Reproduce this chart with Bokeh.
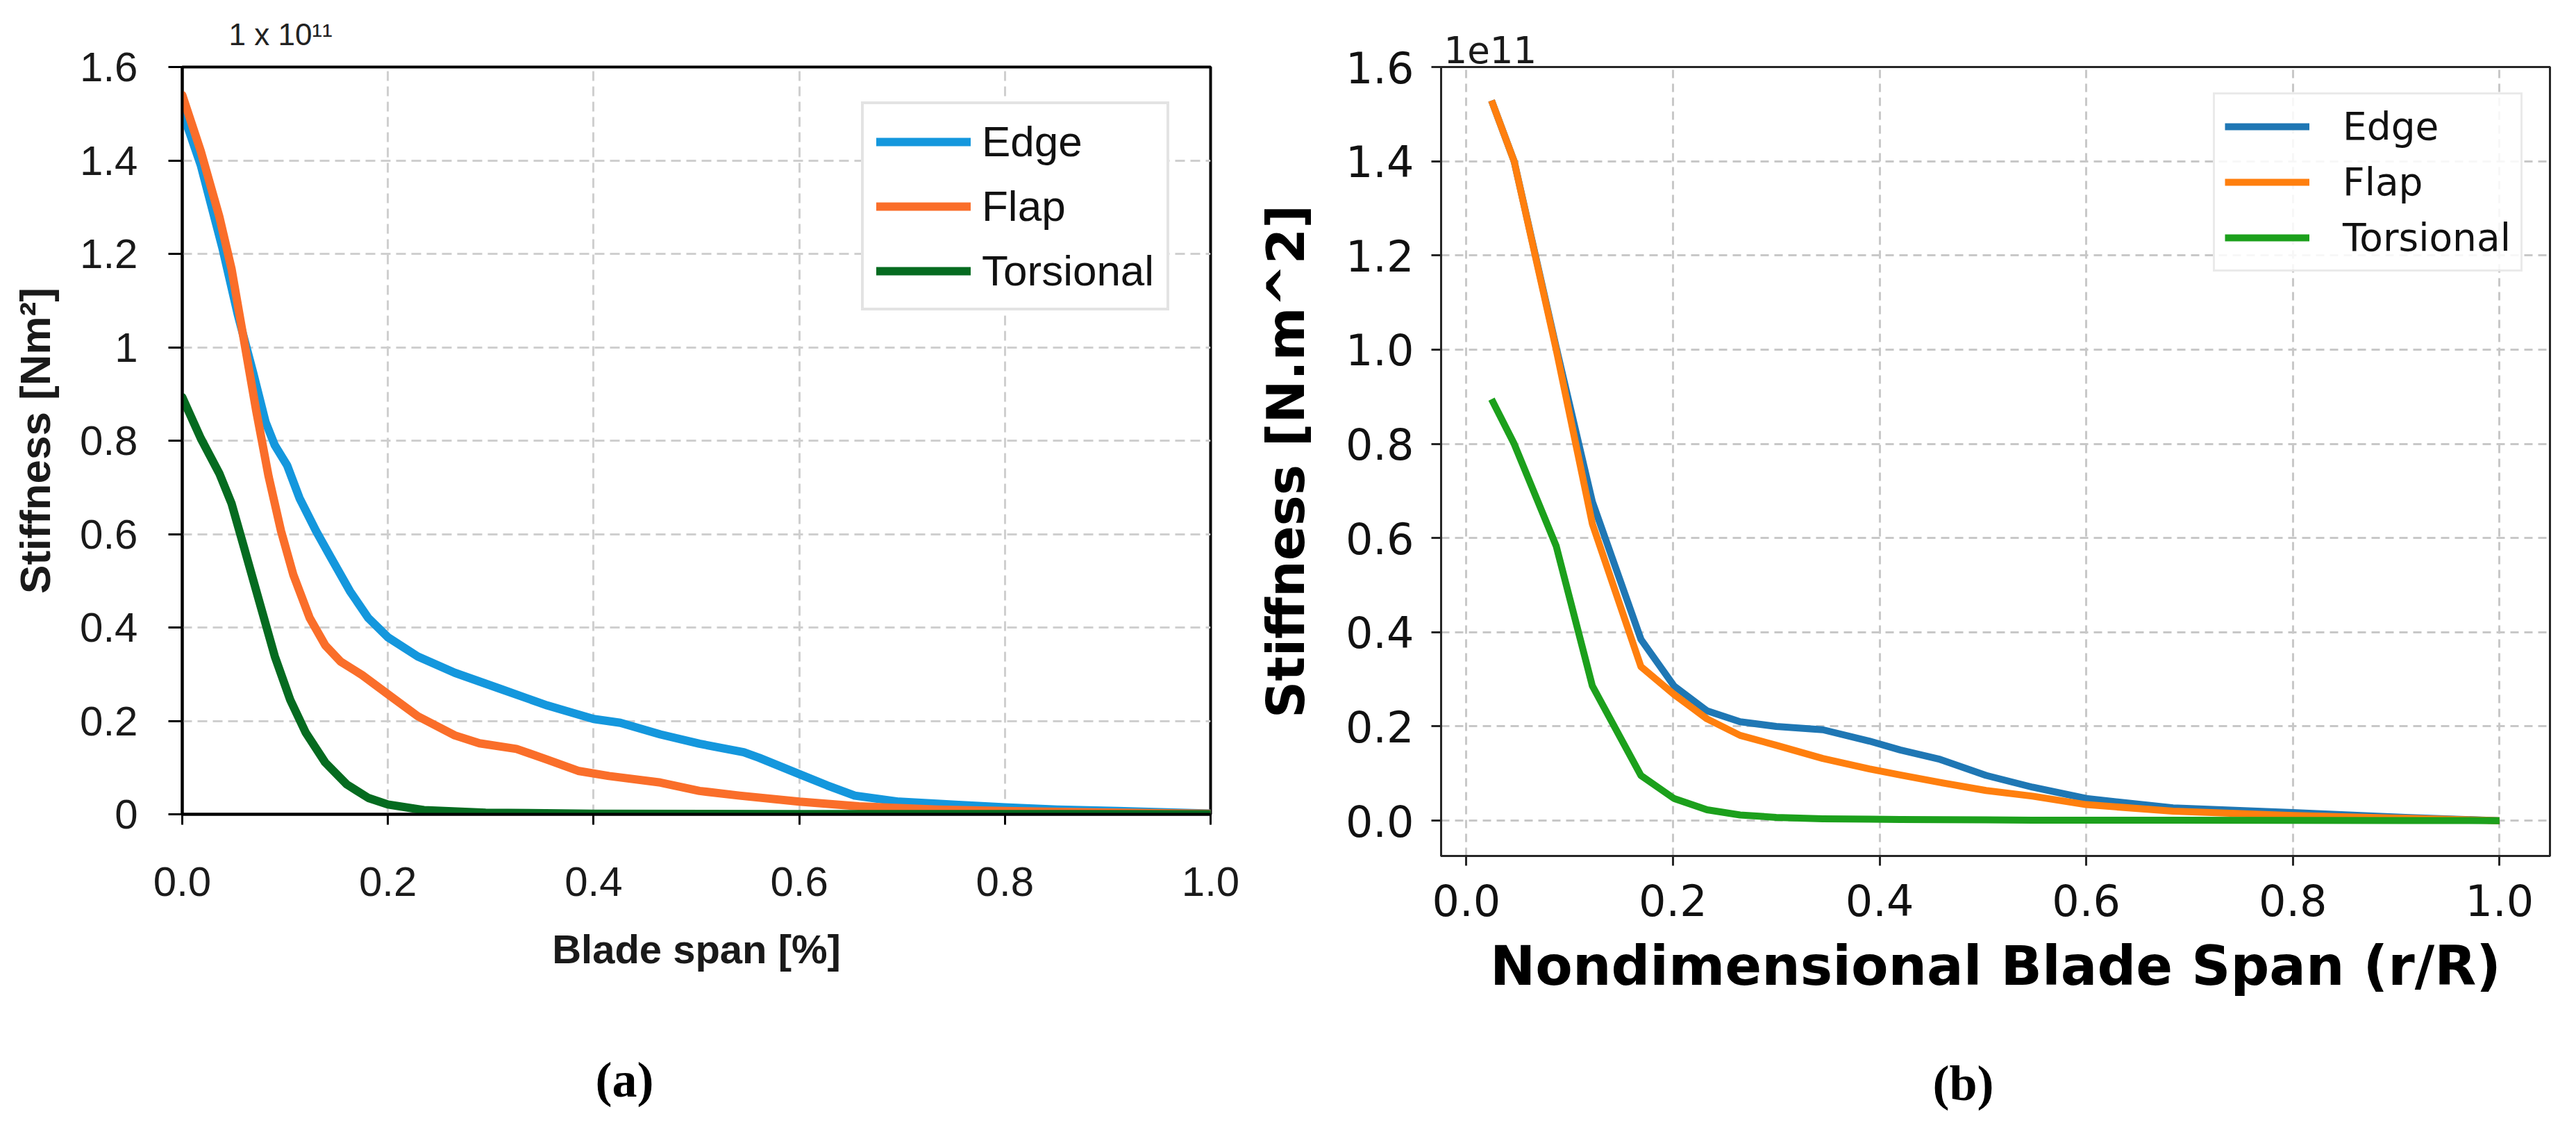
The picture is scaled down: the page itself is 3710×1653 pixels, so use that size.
from bokeh.plotting import figure
from bokeh.layouts import row
from bokeh.models import Range1d, FixedTicker, Legend, LegendItem, Title, PrintfTickFormatter
from bokeh.embed import file_html
from bokeh.resources import INLINE

# ---------------- data (stiffness in units of 1e11) ----------------
# Panel (a)
edge_a_x = [0, 0.018, 0.039, 0.054, 0.069, 0.081, 0.09, 0.102, 0.114, 0.13, 0.145, 0.163,
            0.181, 0.2, 0.229, 0.265, 0.31, 0.355, 0.4, 0.426, 0.465, 0.503, 0.546, 0.561,
            0.6, 0.627, 0.654, 0.697, 0.755, 0.8, 0.851, 0.91, 1.0]
edge_a_y = [1.505, 1.39, 1.213, 1.07, 0.945, 0.84, 0.79, 0.747, 0.677, 0.607, 0.548, 0.478,
            0.42, 0.379, 0.338, 0.303, 0.268, 0.233, 0.204, 0.196, 0.171, 0.151, 0.133, 0.121,
            0.086, 0.062, 0.04, 0.027, 0.02, 0.015, 0.01, 0.007, 0.0015]
flap_a_x = [0, 0.018, 0.036, 0.048, 0.06, 0.072, 0.084, 0.096, 0.108, 0.124, 0.139, 0.154,
            0.175, 0.2, 0.229, 0.265, 0.289, 0.325, 0.355, 0.385, 0.415, 0.465, 0.503, 0.542,
            0.6, 0.658, 0.735, 0.8, 0.89, 1.0]
flap_a_y = [1.54, 1.42, 1.28, 1.167, 1.015, 0.863, 0.723, 0.607, 0.513, 0.42, 0.362, 0.327,
            0.298, 0.257, 0.21, 0.169, 0.152, 0.14, 0.117, 0.093, 0.082, 0.068, 0.05, 0.04,
            0.027, 0.017, 0.01, 0.007, 0.004, 0.001]
tors_a_x = [0, 0.018, 0.036, 0.048, 0.06, 0.075, 0.09, 0.105, 0.12, 0.139, 0.16, 0.181, 0.2,
            0.235, 0.295, 0.4, 0.6, 0.8, 1.0]
tors_a_y = [0.893, 0.805, 0.73, 0.665, 0.572, 0.455, 0.338, 0.245, 0.175, 0.111, 0.064, 0.035,
            0.021, 0.009, 0.0035, 0.001, 0.0005, 0.0003, 0.0]

# Panel (b)
span_b = [0.0244, 0.0463, 0.087, 0.122, 0.169, 0.201, 0.233, 0.265, 0.3, 0.345, 0.39, 0.42,
          0.4585, 0.503, 0.548, 0.6, 0.684, 0.8, 0.909, 1.0]
edge_b = [1.529, 1.40, 1.005, 0.677, 0.385, 0.286, 0.233, 0.21, 0.2, 0.193, 0.169, 0.15,
          0.13, 0.096, 0.071, 0.047, 0.027, 0.017, 0.007, 0.0]
flap_b = [1.529, 1.40, 1.0, 0.63, 0.327, 0.268, 0.216, 0.181, 0.16, 0.132, 0.11, 0.097,
          0.081, 0.064, 0.052, 0.034, 0.02, 0.011, 0.005, 0.0]
tors_b = [0.895, 0.80, 0.583, 0.286, 0.096, 0.047, 0.023, 0.012, 0.007, 0.004, 0.003, 0.0025,
          0.002, 0.0015, 0.001, 0.001, 0.0008, 0.0005, 0.0003, 0.0]

series_names = ["Edge", "Flap", "Torsional"]
x_ticks = [0, 0.2, 0.4, 0.6, 0.8, 1.0]
y_ticks = [0, 0.2, 0.4, 0.6, 0.8, 1.0, 1.2, 1.4, 1.6]
y_labels_a = ["0", "0.2", "0.4", "0.6", "0.8", "1", "1.2", "1.4", "1.6"]

colors_a = ["#1497DD", "#FA6E2A", "#056B20"]
colors_b = ["#1f77b4", "#ff7f0e", "#1ca01c"]

SANS_A = "Liberation Sans"
SANS_B = "DejaVu Sans"
SERIF = "Liberation Serif"

# ---------------- panel (a) ----------------
p1 = figure(frame_width=1481, frame_height=1076, x_range=Range1d(0, 1), y_range=Range1d(0, 1.6),
            output_backend="svg", toolbar_location=None,
            min_border_left=262, min_border_right=49, min_border_top=89, min_border_bottom=60)
p1.background_fill_color = "white"
p1.border_fill_color = "white"
p1.outline_line_color = "black"
p1.outline_line_width = 4

p1.title.text = "1 x 10\u00b9\u00b9"
p1.title.align = "left"
p1.title.offset = 67
p1.title.standoff = 45
p1.title.text_font = SANS_A
p1.title.text_font_size = "44px"
p1.title.text_font_style = "normal"
p1.title.text_color = "#222222"

for ax in (p1.xaxis[0], p1.yaxis[0]):
    ax.axis_line_color = "black"
    ax.axis_line_width = 4
    ax.major_tick_line_color = "black"
    ax.major_tick_line_width = 3
    ax.major_tick_in = 0
    ax.minor_tick_line_color = None
    ax.major_label_text_font = SANS_A
    ax.major_label_text_font_size = "60px"
    ax.major_label_text_color = "#1a1a1a"
    ax.axis_label_text_font = SANS_A
    ax.axis_label_text_font_style = "bold"
    ax.axis_label_text_color = "#1a1a1a"

p1.xaxis.ticker = FixedTicker(ticks=x_ticks)
p1.xaxis.formatter = PrintfTickFormatter(format="%.1f")
p1.xaxis.major_tick_out = 15
p1.xaxis.major_label_standoff = 61
p1.xaxis.axis_label = "Blade span [%]"
p1.xaxis.axis_label_text_font_size = "58px"
p1.xaxis.axis_label_standoff = 41

p1.yaxis.ticker = FixedTicker(ticks=y_ticks)
p1.yaxis.major_label_overrides = {t: l for t, l in zip(y_ticks, y_labels_a)}
p1.yaxis.major_tick_out = 20
p1.yaxis.major_label_standoff = 44
p1.yaxis.axis_label = "Stiffness [Nm\u00b2]"
p1.yaxis.axis_label_text_font_size = "62px"
p1.yaxis.axis_label_standoff = 27

for g in (p1.xgrid[0], p1.ygrid[0]):
    g.grid_line_color = "#cfcfcf"
    g.grid_line_width = 3
    g.grid_line_dash = "14 8"

ra = []
for xs, ys, c in zip([edge_a_x, flap_a_x, tors_a_x], [edge_a_y, flap_a_y, tors_a_y], colors_a):
    ra.append(p1.line(xs, ys, line_color=c, line_width=12, line_join="round", line_cap="round"))

leg1 = Legend(items=[LegendItem(label=n, renderers=[r]) for n, r in zip(series_names, ra)],
              location=(978, 725), margin=0, padding=18, spacing=22,
              glyph_width=136, glyph_height=50, label_height=50, label_standoff=16,
              label_text_font=SANS_A, label_text_font_size="62px", label_text_color="#111111",
              border_line_color="#c8c8c8", border_line_width=4,
              background_fill_color="white", background_fill_alpha=1.0)
p1.add_layout(leg1)

cap1 = Title(text="(a)", align="left", offset=595, standoff=223,
             text_font=SERIF, text_font_size="72px", text_font_style="bold", text_color="black")
p1.add_layout(cap1, "below")

# ---------------- panel (b) ----------------
p2 = figure(frame_width=1597, frame_height=1136, x_range=Range1d(-0.0244, 1.0488),
            y_range=Range1d(-0.075, 1.6),
            output_backend="svg", toolbar_location=None,
            min_border_left=283, min_border_right=22, min_border_top=94, min_border_bottom=60)
p2.background_fill_color = "white"
p2.border_fill_color = "white"
p2.outline_line_color = "#262626"
p2.outline_line_width = 3

p2.title.text = "1e11"
p2.title.align = "left"
p2.title.offset = 4
p2.title.standoff = 12
p2.title.text_font = SANS_B
p2.title.text_font_size = "53px"
p2.title.text_font_style = "normal"
p2.title.text_color = "#1a1a1a"

for ax in (p2.xaxis[0], p2.yaxis[0]):
    ax.axis_line_color = "#262626"
    ax.axis_line_width = 3
    ax.major_tick_line_color = "#262626"
    ax.major_tick_line_width = 3
    ax.major_tick_in = 0
    ax.major_tick_out = 14
    ax.minor_tick_line_color = None
    ax.major_label_text_font = SANS_B
    ax.major_label_text_font_size = "62px"
    ax.major_label_text_color = "#111111"
    ax.axis_label_text_font = SANS_B
    ax.axis_label_text_font_style = "bold"
    ax.axis_label_text_color = "#000000"

p2.xaxis.ticker = FixedTicker(ticks=x_ticks)
p2.xaxis.formatter = PrintfTickFormatter(format="%.1f")
p2.xaxis.major_label_standoff = 26
p2.xaxis.axis_label = "Nondimensional Blade Span (r/R)"
p2.xaxis.axis_label_text_font_size = "78px"
p2.xaxis.axis_label_standoff = 24

p2.yaxis.ticker = FixedTicker(ticks=y_ticks)
p2.yaxis.formatter = PrintfTickFormatter(format="%.1f")
p2.yaxis.major_label_standoff = 25
p2.yaxis.axis_label = "Stiffness [N.m^2]"
p2.yaxis.axis_label_text_font_size = "74px"
p2.yaxis.axis_label_standoff = 40

for g in (p2.xgrid[0], p2.ygrid[0]):
    g.grid_line_color = "#c8c8c8"
    g.grid_line_width = 3
    g.grid_line_dash = "12 8"

rb = []
for ys, c in zip([edge_b, flap_b, tors_b], colors_b):
    rb.append(p2.line(span_b, ys, line_color=c, line_width=10, line_join="round"))

leg2 = Legend(items=[LegendItem(label=n, renderers=[r]) for n, r in zip(series_names, rb)],
              location=(1112, 841), margin=0, padding=14, spacing=16,
              glyph_width=122, glyph_height=50, label_height=50, label_standoff=48,
              label_text_font=SANS_B, label_text_font_size="55px", label_text_color="#111111",
              border_line_color="#d6d6d6", border_line_width=3,
              background_fill_color="white", background_fill_alpha=0.85)
p2.add_layout(leg2)

cap2 = Title(text="(b)", align="left", offset=708, standoff=158,
             text_font=SERIF, text_font_size="72px", text_font_style="bold", text_color="black")
p2.add_layout(cap2, "below")

layout = row(p1, p2)
open("out.html", "w").write(file_html(layout, INLINE))
